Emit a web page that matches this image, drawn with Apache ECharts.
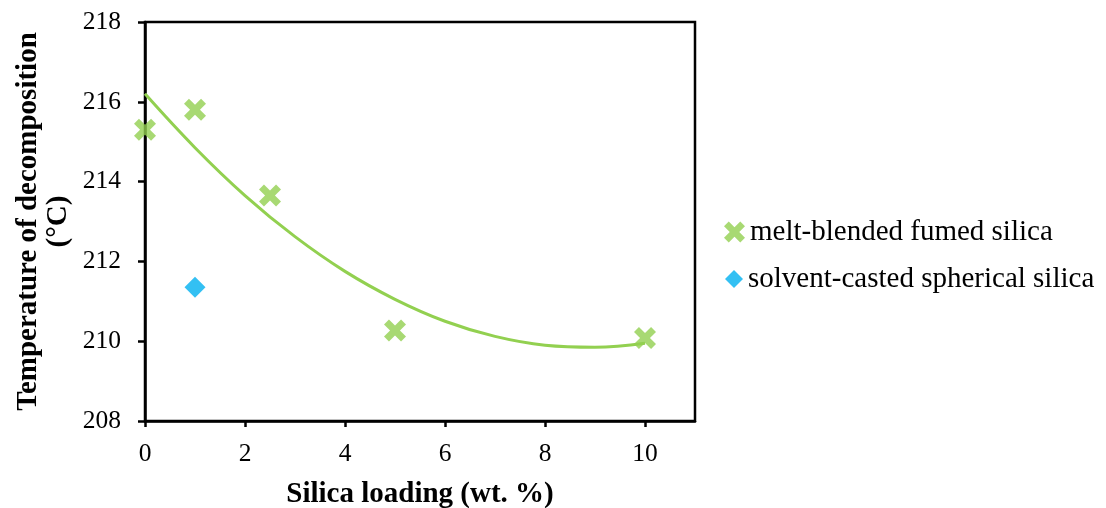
<!DOCTYPE html>
<html>
<head>
<meta charset="utf-8">
<script src="https://cdn.jsdelivr.net/npm/echarts@6/dist/echarts.min.js"></script>
<style>html,body{margin:0;padding:0;background:#fff;}#chart{width:1106px;height:508px;}</style>
</head>
<body>
<div id="chart"></div>
<script>
// Data
const meltX = [0, 1, 2.5, 5, 10];
const meltY = [215.3, 215.8, 213.65, 210.27, 210.08];
const spherX = [1];
const spherY = [211.35];
// Polynomial trendline, points
const trendX = [0, 1, 2, 3, 4, 5, 6, 7, 8, 9, 10];
const trendY = [216.2, 214.85, 213.65, 212.62, 211.75, 211.05, 210.5, 210.12, 209.9, 209.85, 209.95];
const xTickValues = [0, 2, 4, 6, 8, 10];
const seriesNames = ['melt-blended fumed silica', 'solvent-casted spherical silica'];
const xTitle = 'Silica loading (wt. %)';
const yTitle = 'Temperature of decomposition\n(°C)';

const FONT = '"Liberation Serif", "Times New Roman", serif';
const GREEN = '#92D050';
const BLUE = '#00B0F0';
const XSYM = 'path://M4.5,0 L10,5.5 L15.5,0 L20,4.5 L14.5,10 L20,15.5 L15.5,20 L10,14.5 L4.5,20 L0,15.5 L5.5,10 L0,4.5 Z';

const zip = (a, b) => a.map((v, i) => [v, b[i]]);
const legendText = {fontFamily: FONT, fontSize: 29, color: '#000', lineHeight: 30};

const chart = echarts.init(document.getElementById('chart'), null, {renderer: 'canvas'});
chart.setOption({
  animation: false,
  backgroundColor: '#fff',
  grid: {left: 145, top: 22, right: 411, bottom: 87, show: true, borderColor: '#000', borderWidth: 2.5,
         backgroundColor: 'transparent', containLabel: false, outerBoundsMode: 'none'},
  legend: [
    {
      orient: 'vertical', left: 724, top: 217, itemWidth: 21, itemHeight: 21, itemGap: 0, padding: 0,
      textStyle: legendText, data: [{name: seriesNames[0], icon: XSYM}]
    },
    {
      orient: 'vertical', left: 725, top: 264, itemWidth: 18, itemHeight: 18, itemGap: 0, padding: 0,
      textStyle: legendText, data: [{name: seriesNames[1], icon: 'diamond'}]
    }
  ],
  xAxis: {
    type: 'value', min: 0, max: 11, interval: 2,
    name: xTitle, nameLocation: 'middle', nameGap: 59,
    nameTextStyle: {fontFamily: FONT, fontSize: 29, fontWeight: 'bold', color: '#000'},
    axisLine: {show: true, lineStyle: {color: '#000', width: 2.5}},
    axisTick: {show: true, length: 6, lineStyle: {color: '#000', width: 2.5}, customValues: xTickValues},
    axisLabel: {fontFamily: FONT, fontSize: 25.5, color: '#000', margin: 20, customValues: xTickValues},
    splitLine: {show: false}
  },
  yAxis: {
    type: 'value', min: 208, max: 218, interval: 2,
    name: yTitle, nameLocation: 'middle', nameGap: 71, nameRotate: 90,
    nameTextStyle: {fontFamily: FONT, fontSize: 29, fontWeight: 'bold', color: '#000', lineHeight: 30, align: 'center'},
    axisLine: {show: true, lineStyle: {color: '#000', width: 2.5}},
    axisTick: {show: true, length: 7, lineStyle: {color: '#000', width: 2.5}},
    axisLabel: {fontFamily: FONT, fontSize: 25.5, color: '#000', margin: 24},
    splitLine: {show: false}
  },
  series: [
    {
      name: 'trend', type: 'line', data: zip(trendX, trendY), smooth: 0.4,
      showSymbol: false, symbol: 'none', silent: true,
      lineStyle: {color: GREEN, width: 3}, z: 1
    },
    {
      name: seriesNames[0], type: 'scatter', data: zip(meltX, meltY),
      symbol: XSYM, symbolSize: 22, itemStyle: {color: GREEN}, z: 3
    },
    {
      name: seriesNames[1], type: 'scatter', data: zip(spherX, spherY),
      symbol: 'diamond', symbolSize: 21, itemStyle: {color: BLUE}, z: 3
    }
  ]
});
</script>
</body>
</html>
